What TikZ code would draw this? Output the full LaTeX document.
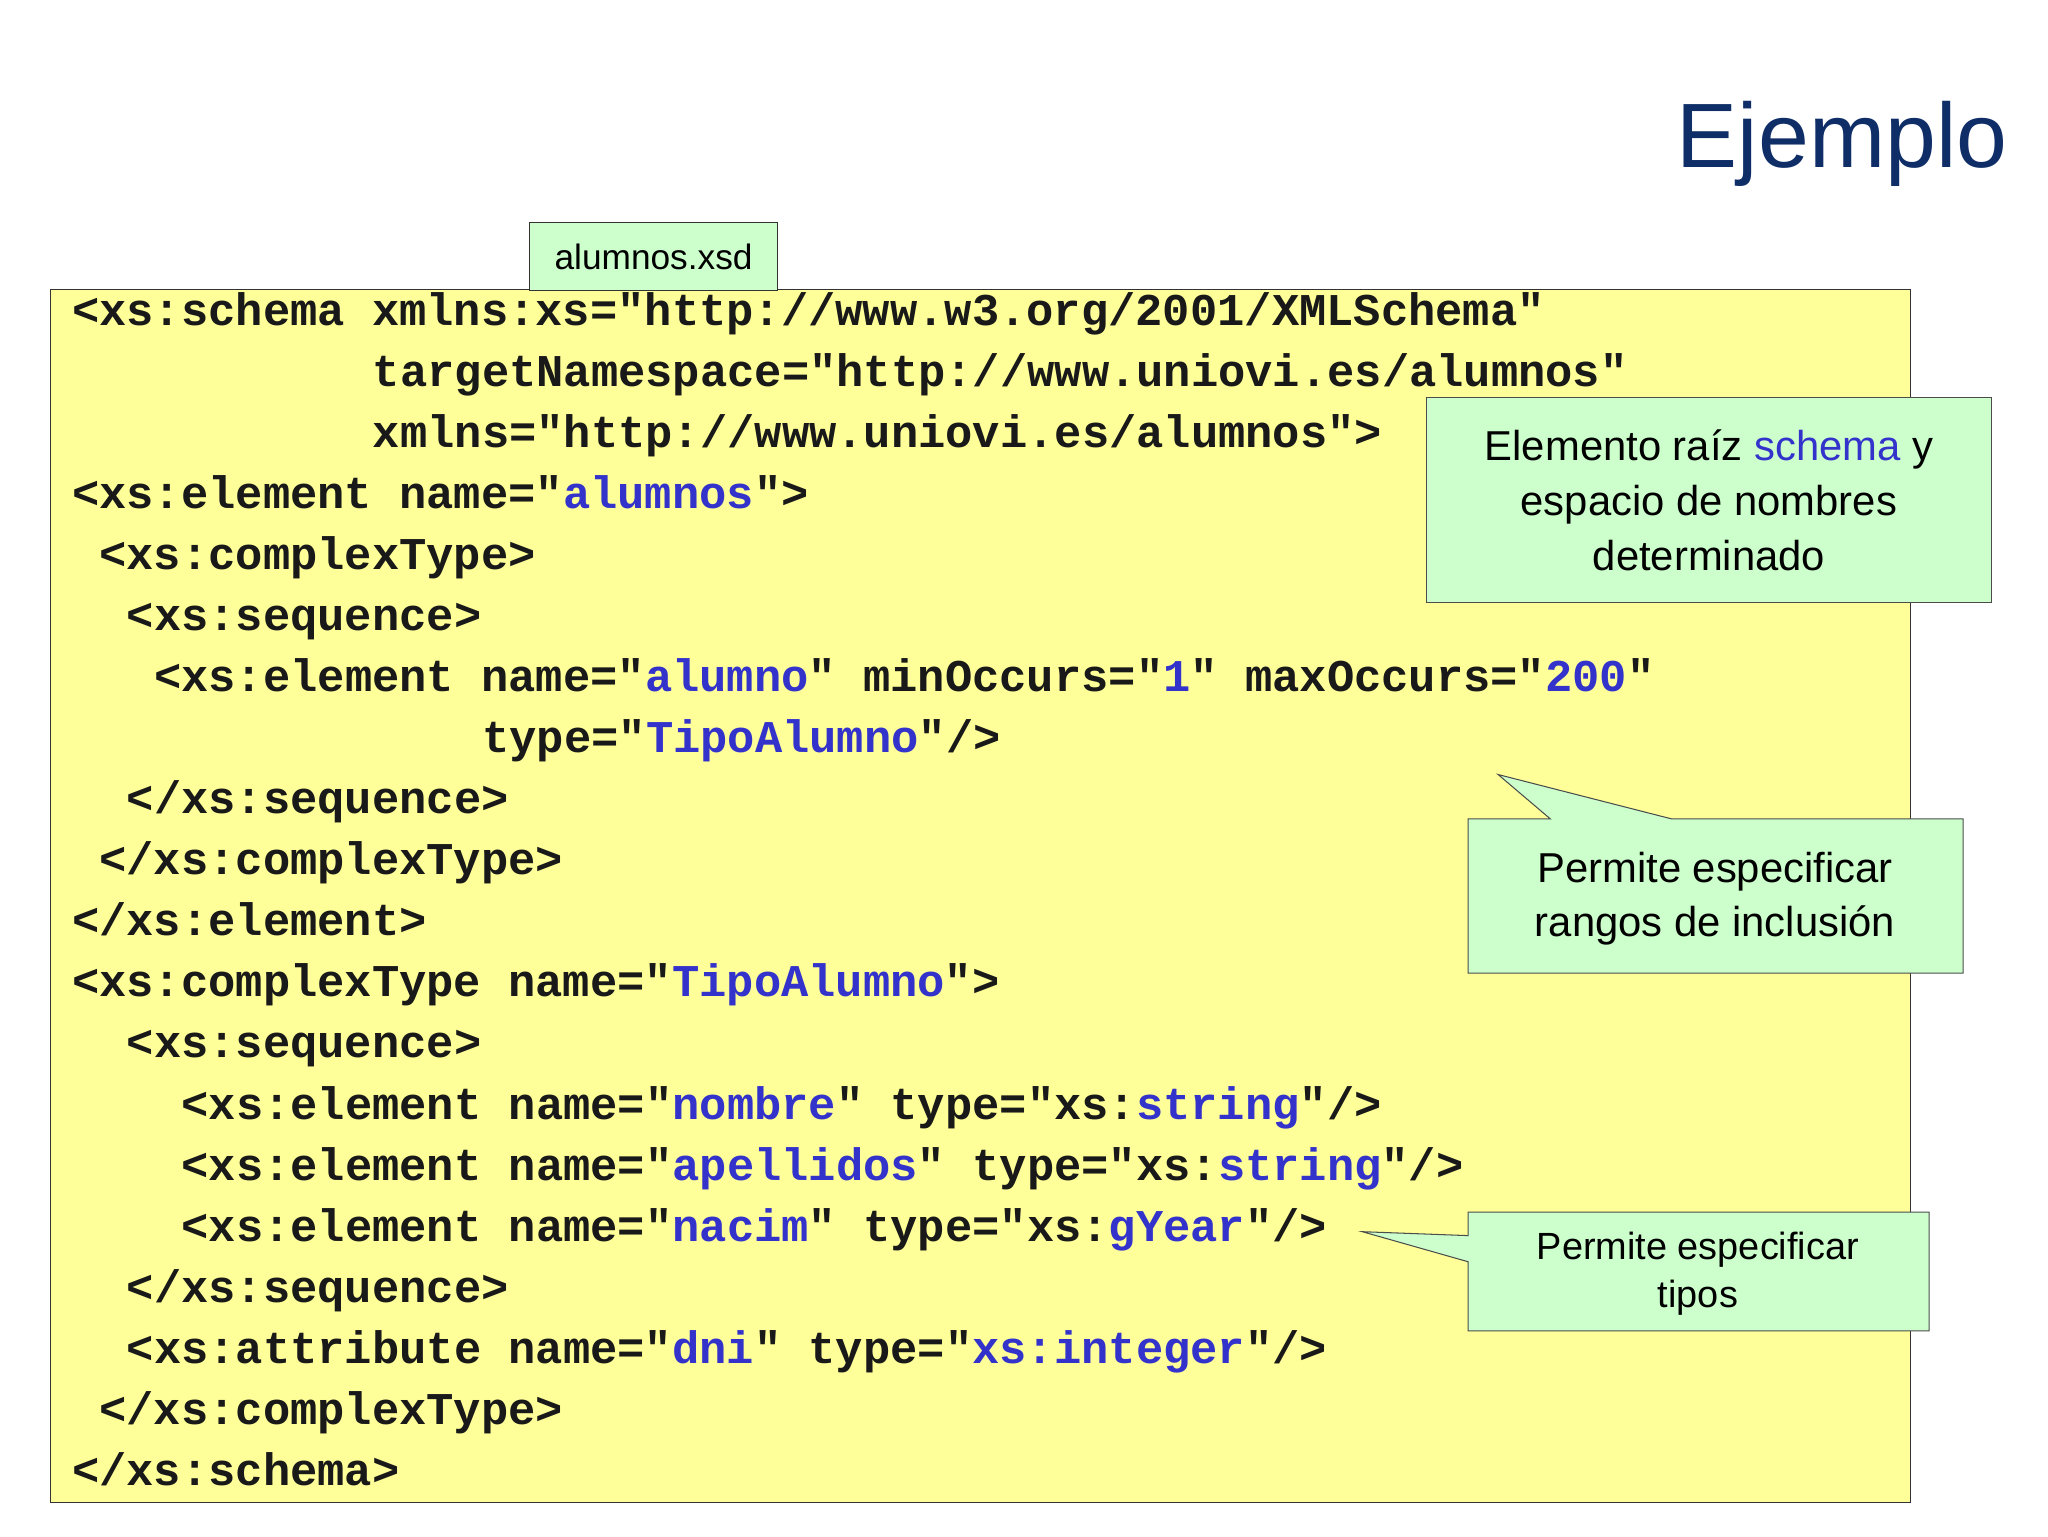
\documentclass[tikz,border=0pt]{standalone}
\usepackage{fontspec}
\setmainfont{Liberation Sans}
\newfontfamily\codef{Liberation Mono}
\definecolor{kw}{HTML}{3333CC}
\definecolor{codebg}{HTML}{FFFF99}
\definecolor{notebg}{HTML}{CCFFCC}
\definecolor{ttl}{HTML}{0F2D66}
\newcommand{\bl}[1]{\textcolor{kw}{#1}}
\begin{document}
\begin{tikzpicture}[x=1bp,y=-1bp,
  codeline/.style={anchor=base west,inner sep=0pt,font=\codef\bfseries\fontsize{34.8bp}{40bp}\selectfont,text=black!90},
  note/.style={draw=black!70,fill=notebg,line width=0.8bp}]
\useasboundingbox (0,0) rectangle (1568,1176);
\node[anchor=base east,inner sep=0pt,font=\fontsize{70bp}{80bp}\selectfont,text=ttl] (title) at (1537,128) {Ejemplo};
\draw[fill=codebg,draw=black!80,line width=0.8bp] (39,222) rectangle (1463,1150);
\node[draw=black!80,fill=notebg,line width=0.8bp,minimum width=190bp,minimum height=52bp,inner sep=0pt,anchor=north west,font=\fontsize{27bp}{32bp}\selectfont] (tab) at (405,170) {alumnos.xsd};
\def\cw{20.94}
\def\ls{46.75}
\foreach \n/\i/\t in {1/0/{<xs:schema xmlns:xs="http://www.w3.org/2001/XMLSchema"},
 2/11/{targetNamespace="http://www.uniovi.es/alumnos"},
 3/11/{xmlns="http://www.uniovi.es/alumnos">},
 4/0/{<xs:element name="\bl{alumnos}">},
 5/1/{<xs:complexType>},
 6/2/{<xs:sequence>},
 7/3/{<xs:element name="\bl{alumno}" minOccurs="\bl{1}" maxOccurs="\bl{200}"},
 8/15/{type="\bl{TipoAlumno}"/>},
 9/2/{</xs:sequence>},
 10/1/{</xs:complexType>},
 11/0/{</xs:element>},
 12/0/{<xs:complexType name="\bl{TipoAlumno}">},
 13/2/{<xs:sequence>},
 14/4/{<xs:element name="\bl{nombre}" type="xs:\bl{string}"/>},
 15/4/{<xs:element name="\bl{apellidos}" type="xs:\bl{string}"/>},
 16/4/{<xs:element name="\bl{nacim}" type="xs:\bl{gYear}"/>},
 17/2/{</xs:sequence>},
 18/2/{<xs:attribute name="\bl{dni}" type="\bl{xs:integer}"/>},
 19/1/{</xs:complexType>},
 20/0/{</xs:schema>}}
 \node[codeline] (l\n) at ({55+\cw*\i},{249+\ls*(\n-1)}) {\t};
% note 1
\node[note,minimum width=432bp,minimum height=157bp,anchor=north west,inner sep=0pt,align=center,font=\fontsize{32bp}{42bp}\selectfont] (n1) at (1092,304) {Elemento raíz \bl{schema} y\\espacio de nombres\\determinado};
% note 2 with pointer
\coordinate (p2) at (1147,593);
\draw[note] (1124,627) -- (1187,627) -- (p2) -- (1280,627) -- (1503,627) -- (1503,745) -- (1124,745) -- cycle;
\node[align=center,font=\fontsize{32bp}{42bp}\selectfont] (n2) at (1313,688) {Permite especificar\\rangos de inclusión};
% note 3 with pointer
\coordinate (p3) at (1043,943);
\draw[note] (1124,928) -- (1477,928) -- (1477,1019) -- (1124,1019) -- (1124,966) -- (p3) -- (1124,946) -- cycle;
\node[align=center,font=\fontsize{29bp}{37bp}\selectfont] (n3) at (1300,975) {Permite especificar\\tipos};
\end{tikzpicture}
\end{document}
